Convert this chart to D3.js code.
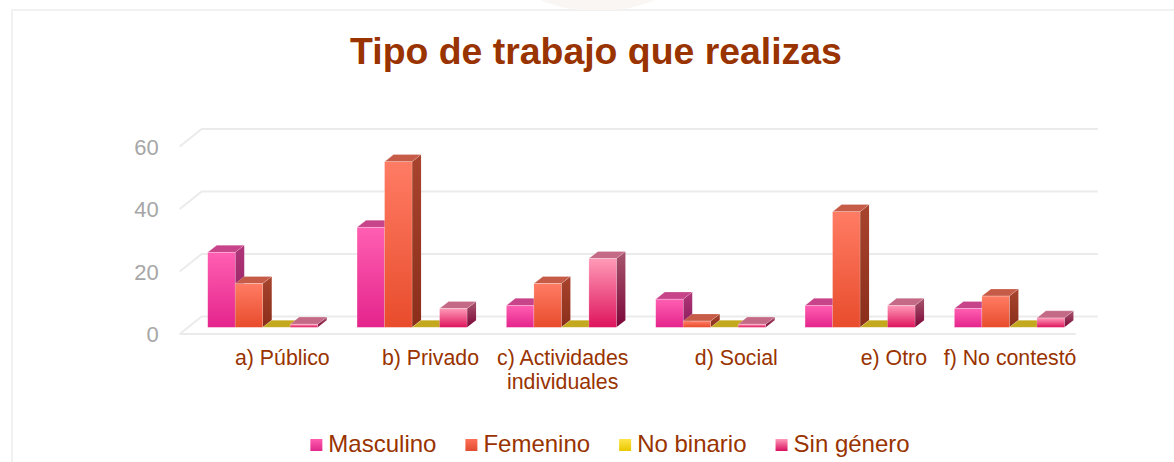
<!DOCTYPE html>
<html>
<head>
<meta charset="utf-8">
<script src="https://cdn.jsdelivr.net/npm/d3@7"></script>
<style>
  body { margin: 0; background: #fff; }
  svg { display: block; font-family: "Liberation Sans", Arial, sans-serif; }
</style>
</head>
<body>
<svg id="chart" width="1174" height="462"></svg>
<script>
// data
var categories = ["a) Público", "b) Privado", "c) Actividades individuales", "d) Social", "e) Otro", "f) No contestó"];
var seriesNames = ["Masculino", "Femenino", "No binario", "Sin género"];
var masculino = [24, 32, 7, 9, 7, 6];
var femenino = [14, 53, 14, 2, 37, 10];
var noBinario = [0, 0, 0, 0, 0, 0];
var sinGenero = [1, 6, 22, 1, 7, 3];
var yTicks = [0, 20, 40, 60];
var title = "Tipo de trabajo que realizas";

var seriesValues = [masculino, femenino, noBinario, sinGenero];

// colours per series: front top, front bottom, top face, side top, side bottom, legend top, legend bottom
var colors = [
  {ft: "#ff5fb2", fb: "#e4248c", top: "#c8448a", st: "#b0357a", sb: "#8a1d5a", lt: "#ff5cb0", lb: "#e0288a"},
  {ft: "#ff7c64", fb: "#e84c2c", top: "#c65c48", st: "#a8442e", sb: "#8a2e1a", lt: "#ff7058", lb: "#e04c30"},
  {ft: "#f2d428", fb: "#d8b810", top: "#c4a81e", st: "#a89012", sb: "#8c780c", lt: "#ffe448", lb: "#e8c800"},
  {ft: "#ff9ab8", fb: "#de145c", top: "#c46a86", st: "#a8566e", sb: "#7c0638", lt: "#ff98b8", lb: "#d81060"}
];

var svg = d3.select("#chart");
var textColor = "#993300";

// oblique projection of the 3d floor
var back = {x0: 201.7, x1: 1097.7};
var depth = {dx: -22, dy: 17.5};
var barFront = 0.62, barBack = 0.21;

var x = d3.scaleBand().domain(categories).range([back.x0, back.x1]);
var y = d3.scaleLinear().domain([0, 60]).range([316.5, 129]);
var xs = d3.scaleBand().domain(seriesNames).range([0, 110]);
var bandPad = (x.bandwidth() - 110) / 2;

function proj(px, py, d) {
  return [px + depth.dx * d, py + depth.dy * d];
}

var defs = svg.append("defs");
colors.forEach(function(c, i) {
  var gf = defs.append("linearGradient").attr("id", "front" + i).attr("x1", 0).attr("y1", 0).attr("x2", 0).attr("y2", 1);
  gf.append("stop").attr("offset", "0%").attr("stop-color", c.ft);
  gf.append("stop").attr("offset", "100%").attr("stop-color", c.fb);
  var gs = defs.append("linearGradient").attr("id", "side" + i).attr("x1", 0).attr("y1", 0).attr("x2", 0).attr("y2", 1);
  gs.append("stop").attr("offset", "0%").attr("stop-color", c.st);
  gs.append("stop").attr("offset", "100%").attr("stop-color", c.sb);
  var gl = defs.append("linearGradient").attr("id", "leg" + i).attr("x1", 0).attr("y1", 0).attr("x2", 0).attr("y2", 1);
  gl.append("stop").attr("offset", "0%").attr("stop-color", c.lt);
  gl.append("stop").attr("offset", "100%").attr("stop-color", c.lb);
});

// card frame and faint top decoration
svg.append("path")
  .attr("d", "M12,462 L12,10 L1174,10")
  .attr("fill", "none")
  .attr("stroke", "#ededed")
  .attr("stroke-width", 1.5);
svg.append("path")
  .attr("d", "M540,0 L655,0 C640,6 625,10 610,10 L585,10 C570,10 555,6 540,0 Z")
  .attr("fill", "#f9f6f3");

svg.append("text")
  .attr("x", 596)
  .attr("y", 64)
  .attr("text-anchor", "middle")
  .attr("font-size", 37.4)
  .attr("font-weight", "bold")
  .attr("fill", textColor)
  .text(title);

// gridlines on the back wall, with the slanted left edge
var grid = svg.append("g");
yTicks.forEach(function(t) {
  var p0 = proj(back.x0, y(t), 1);
  grid.append("path")
    .attr("d", "M" + p0[0] + "," + p0[1] + " L" + back.x0 + "," + y(t) + " L" + back.x1 + "," + y(t))
    .attr("fill", "none")
    .attr("stroke", "#ebebeb")
    .attr("stroke-width", 2);
});
var f0 = proj(back.x0, y(0), 1), f1 = proj(back.x1, y(0), 1);
grid.append("line")
  .attr("x1", f0[0]).attr("y1", f0[1])
  .attr("x2", f1[0]).attr("y2", f1[1])
  .attr("stroke", "#ebebeb")
  .attr("stroke-width", 2);

// y tick labels
svg.append("g").selectAll("text")
  .data(yTicks)
  .enter().append("text")
  .attr("x", function(d) { return proj(back.x0, y(d), 1)[0] - 21; })
  .attr("y", function(d) { return proj(back.x0, y(d), 1)[1] + 8; })
  .attr("text-anchor", "end")
  .attr("font-size", 22)
  .attr("fill", "#a6a6a6")
  .text(function(d) { return d; });

// bars, left to right so each front face hides the previous side face
var bars = [];
categories.forEach(function(cat, ci) {
  seriesNames.forEach(function(s, si) {
    bars.push({cat: cat, name: s, s: si, v: seriesValues[si][ci]});
  });
});

var gBars = svg.append("g");
bars.forEach(function(b) {
  var left = x(b.cat) + bandPad + xs(b.name);
  var right = left + xs.bandwidth();
  var yb = y(0), yt = y(b.v);
  var fl = proj(left, yt, barFront), fr = proj(right, yt, barFront);
  var flb = proj(left, yb, barFront), frb = proj(right, yb, barFront);
  var bl = proj(left, yt, barBack), br = proj(right, yt, barBack);
  var brb = proj(right, yb, barBack);
  var g = gBars.append("g");
  if (b.v > 0) {
    g.append("path")
      .attr("d", "M" + [fr, br, brb, frb].join(" L") + " Z")
      .attr("fill", "url(#side" + b.s + ")");
  }
  g.append("path")
    .attr("d", "M" + [fl, bl, br, fr].join(" L") + " Z")
    .attr("fill", colors[b.s].top)
    .attr("stroke", "rgba(255,255,255,0.35)")
    .attr("stroke-width", 0.6);
  if (b.v > 0) {
    g.append("rect")
      .attr("x", fl[0])
      .attr("y", fl[1])
      .attr("width", fr[0] - fl[0])
      .attr("height", flb[1] - fl[1])
      .attr("fill", "url(#front" + b.s + ")")
      .attr("stroke", "rgba(255,255,255,0.35)")
      .attr("stroke-width", 0.6);
  }
});

// category labels, wrapped when wider than the band
var labelG = svg.append("g")
  .attr("font-size", 21.3)
  .attr("fill", textColor);
categories.forEach(function(cat) {
  var cx = proj(x(cat) + x.bandwidth() / 2, 0, barFront)[0] + 67;
  var words = cat.split(" ");
  var lines = [], line = [];
  var probe = labelG.append("text");
  words.forEach(function(w) {
    probe.text(line.concat([w]).join(" "));
    if (line.length && probe.node().getComputedTextLength() > 148) {
      lines.push(line.join(" "));
      line = [w];
    } else {
      line.push(w);
    }
  });
  lines.push(line.join(" "));
  var widths = lines.map(function(l) { probe.text(l); return probe.node().getComputedTextLength(); });
  probe.remove();
  var maxW = d3.max(widths);
  lines.forEach(function(l, i) {
    labelG.append("text")
      .attr("x", cx - maxW / 2)
      .attr("y", 365 + i * 24)
      .attr("text-anchor", "middle")
      .text(l);
  });
});

// legend
var legend = svg.append("g").attr("font-size", 24).attr("fill", textColor);
var lx = 0;
seriesNames.forEach(function(s, i) {
  var item = legend.append("g").attr("transform", "translate(" + lx + ",0)");
  item.append("rect")
    .attr("x", 0).attr("y", 439)
    .attr("width", 12).attr("height", 12)
    .attr("fill", "url(#leg" + i + ")");
  var t = item.append("text")
    .attr("x", 18).attr("y", 452)
    .text(s);
  lx += 18 + t.node().getComputedTextLength() + 29;
});
var legendW = lx - 29;
legend.attr("transform", "translate(" + (610 - legendW / 2) + ",0)");
</script>
</body>
</html>
